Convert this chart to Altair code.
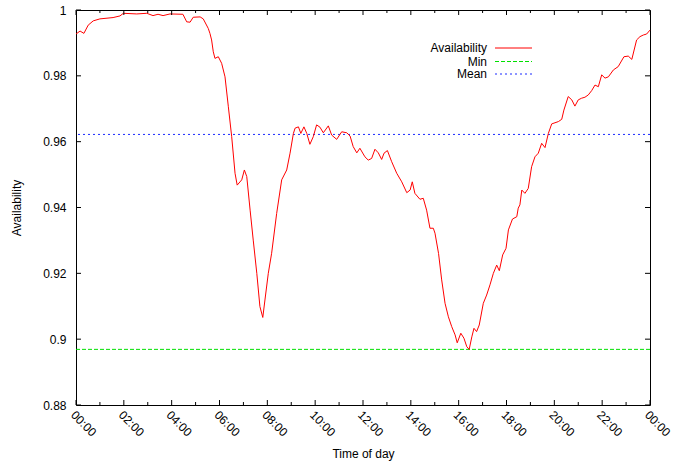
import altair as alt
import pandas as pd

# ---- data ----
hours = [0.00, 0.17, 0.33, 0.51, 0.72, 1.00, 1.55, 1.84, 1.98, 2.54,
         2.96, 3.22, 3.43, 3.64, 3.93, 4.47, 4.63, 4.77, 4.90, 5.19,
         5.32, 5.53, 5.60, 5.67, 5.74, 5.81, 5.95, 6.09, 6.23, 6.37,
         6.51, 6.65, 6.74, 6.93, 7.04, 7.14, 7.28, 7.41, 7.56, 7.69,
         7.81, 7.90, 8.04, 8.18, 8.39, 8.60, 8.81, 8.95, 9.09, 9.16,
         9.30, 9.40, 9.53, 9.65, 9.78, 9.92, 10.06, 10.20, 10.34, 10.55,
         10.69, 10.90, 11.11, 11.32, 11.46, 11.59, 11.74, 11.87, 12.08, 12.22,
         12.36, 12.50, 12.64, 12.78, 12.88, 13.02, 13.20, 13.41, 13.62, 13.83,
         13.97, 14.06, 14.17, 14.38, 14.52, 14.66, 14.80, 14.94, 15.01, 15.16,
         15.29, 15.43, 15.57, 15.71, 15.85, 15.94, 16.09, 16.22, 16.34, 16.44,
         16.55, 16.64, 16.75, 16.86, 17.03, 17.17, 17.31, 17.45, 17.59, 17.70,
         17.84, 17.98, 18.08, 18.25, 18.43, 18.49, 18.56, 18.64, 18.77, 18.91,
         19.05, 19.19, 19.33, 19.47, 19.61, 19.75, 19.89, 20.17, 20.31, 20.40,
         20.58, 20.73, 20.86, 21.00, 21.14, 21.28, 21.42, 21.56, 21.70, 21.84,
         21.98, 22.12, 22.26, 22.47, 22.67, 22.91, 23.09, 23.24, 23.44, 23.58,
         23.72, 23.86, 24.00]

availability = [0.9927, 0.9936, 0.9929, 0.9954, 0.9967, 0.9973, 0.9977, 0.9982, 0.9990, 0.9988,
                0.9990, 0.9983, 0.9987, 0.9983, 0.9988, 0.9987, 0.9964, 0.9963, 0.9978, 0.9979,
                0.9973, 0.9944, 0.9929, 0.9909, 0.9873, 0.9853, 0.9858, 0.9838, 0.9797, 0.9706,
                0.9615, 0.9504, 0.9468, 0.9484, 0.9514, 0.9494, 0.9392, 0.9301, 0.9200, 0.9099,
                0.9066, 0.9119, 0.9200, 0.9261, 0.9382, 0.9484, 0.9514, 0.9565, 0.9625, 0.9641,
                0.9645, 0.9625, 0.9645, 0.9625, 0.9592, 0.9615, 0.9651, 0.9644, 0.9627, 0.9648,
                0.9620, 0.9607, 0.9630, 0.9627, 0.9617, 0.9585, 0.9566, 0.9580, 0.9554, 0.9544,
                0.9549, 0.9577, 0.9566, 0.9546, 0.9565, 0.9573, 0.9539, 0.9504, 0.9478, 0.9445,
                0.9453, 0.9478, 0.9443, 0.9425, 0.9428, 0.9392, 0.9337, 0.9337, 0.9322, 0.9260,
                0.9180, 0.9109, 0.9068, 0.9038, 0.9013, 0.8989, 0.9018, 0.9003, 0.8977, 0.8969,
                0.9007, 0.9033, 0.9023, 0.9043, 0.9109, 0.9134, 0.9165, 0.9200, 0.9225, 0.9208,
                0.9256, 0.9276, 0.9332, 0.9365, 0.9372, 0.9398, 0.9408, 0.9453, 0.9443, 0.9458,
                0.9524, 0.9554, 0.9565, 0.9595, 0.9582, 0.9625, 0.9654, 0.9661, 0.9668, 0.9696,
                0.9737, 0.9727, 0.9708, 0.9727, 0.9732, 0.9735, 0.9742, 0.9755, 0.9772, 0.9767,
                0.9803, 0.9793, 0.9797, 0.9818, 0.9828, 0.9858, 0.9860, 0.9850, 0.9909, 0.9919,
                0.9924, 0.9927, 0.9939]

min_avail = 0.8969
mean_avail = 0.9622

major_hours = list(range(0, 25, 2))
minor_hours = list(range(1, 24, 2))
y_ticks = [0.88, 0.90, 0.92, 0.94, 0.96, 0.98, 1.0]
legend_labels = ["Availability", "Min", "Mean"]

# ---- styles ----
W, H = 574, 395
FONT = "Liberation Sans"
RED, GREEN, BLUE = "#ff0000", "#00e000", "#1a2bff"

xscale = alt.Scale(domain=[0, 24], nice=False, zero=False)
yscale = alt.Scale(domain=[0.88, 1.0], nice=False, zero=False)

df = pd.DataFrame({"hour": hours, "avail": availability})

line = alt.Chart(df).mark_line(color=RED, strokeWidth=1).encode(
    x=alt.X("hour:Q", scale=xscale,
            axis=alt.Axis(values=major_hours, title="Time of day",
                          labelExpr="(datum.value % 24 < 10 ? '0' : '') + (datum.value % 24) + ':00'",
                          labelAngle=45, labelAlign="left", labelBaseline="top",
                          labelPadding=4, titleY=48, titleBaseline="middle")),
    y=alt.Y("avail:Q", scale=yscale,
            axis=alt.Axis(values=y_ticks, format="~g", title="Availability",
                          labelPadding=10, titleX=-60, titleY=H / 2,
                          titleBaseline="middle", titleAlign="center", titleAngle=270)),
)

min_rule = alt.Chart(pd.DataFrame({"avail": [min_avail]})).mark_rule(
    color=GREEN, strokeWidth=1, strokeDash=[4, 2]).encode(y=alt.Y("avail:Q", scale=yscale))
mean_rule = alt.Chart(pd.DataFrame({"avail": [mean_avail]})).mark_rule(
    color=BLUE, strokeWidth=1, strokeDash=[2, 3]).encode(y=alt.Y("avail:Q", scale=yscale))

maj = pd.DataFrame({"hour": major_hours})
mnr = pd.DataFrame({"hour": minor_hours})
yt = pd.DataFrame({"avail": y_ticks})


def xticks(data, length):
    bot = alt.Chart(data).mark_rule(color="black", strokeWidth=1).encode(
        x=alt.X("hour:Q", scale=xscale), y=alt.value(H), y2=alt.value(H - length))
    top = alt.Chart(data).mark_rule(color="black", strokeWidth=1).encode(
        x=alt.X("hour:Q", scale=xscale), y=alt.value(0), y2=alt.value(length))
    return [bot, top]


def yticks(data, length):
    left = alt.Chart(data).mark_rule(color="black", strokeWidth=1).encode(
        y=alt.Y("avail:Q", scale=yscale), x=alt.value(0), x2=alt.value(length))
    right = alt.Chart(data).mark_rule(color="black", strokeWidth=1).encode(
        y=alt.Y("avail:Q", scale=yscale), x=alt.value(W), x2=alt.value(W - length))
    return [left, right]


tick_layers = xticks(maj, 5) + xticks(mnr, 3) + yticks(yt, 5)

# ---- legend (gnuplot style: label left of sample) ----
leg_y = [38, 51.5, 64]
leg_colors = [RED, GREEN, BLUE]
leg_dash = [[1, 0], [4, 2], [2, 3]]
legend_layers = []
for lab, yy, col, dash in zip(legend_labels, leg_y, leg_colors, leg_dash):
    ld = pd.DataFrame({"label": [lab]})
    legend_layers.append(
        alt.Chart(ld).mark_text(align="right", baseline="middle", font=FONT,
                                fontSize=12, color="black").encode(
            x=alt.value(411), y=alt.value(yy), text="label:N"))
    legend_layers.append(
        alt.Chart(ld).mark_rule(color=col, strokeWidth=1, strokeDash=dash).encode(
            x=alt.value(419), x2=alt.value(456), y=alt.value(yy)))

chart = alt.layer(min_rule, mean_rule, line, *tick_layers, *legend_layers).properties(
    width=W, height=H,
    background="white",
    autosize=alt.AutoSizeParams(type="none"),
    padding={"left": 76, "top": 10, "right": 23, "bottom": 59},
).configure_view(stroke="black", strokeWidth=1).configure_axis(
    grid=False, domain=False, ticks=False,
    labelFont=FONT, labelFontSize=12, labelColor="black",
    titleFont=FONT, titleFontSize=12, titleFontWeight="normal", titleColor="black",
)

chart.save("out.html", embed_options={"renderer": "svg", "actions": False})
